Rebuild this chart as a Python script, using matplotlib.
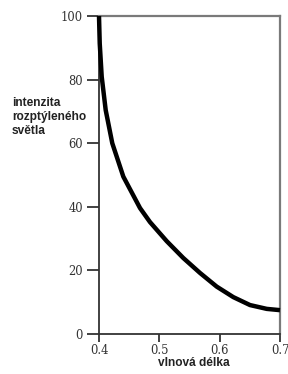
import matplotlib
matplotlib.use("Agg")
import matplotlib.pyplot as plt

wavelength = [0.400, 0.4012, 0.4045, 0.4111, 0.4220, 0.4403, 0.4680, 0.4845,
              0.5122, 0.5397, 0.5674, 0.5951, 0.6226, 0.6503, 0.6780, 0.700]
intensity = [100, 91.4, 80.9, 70.4, 60.0, 49.5, 39.6, 35.2,
             29.2, 23.9, 19.2, 14.9, 11.6, 9.1, 7.9, 7.5]
x_ticks = [0.4, 0.5, 0.6, 0.7]
y_ticks = [0, 20, 40, 60, 80, 100]
x_label = "vlnová délka"
y_label = "intenzita\nrozptýleného\nsvětla"

fig = plt.figure(figsize=(2.88, 3.74), dpi=100)
ax = fig.add_axes([99/288, 1-334/374, 181/288, 318/374])

ax.plot(wavelength, intensity, color="black", lw=3.2,
        solid_capstyle="butt", solid_joinstyle="round", clip_on=False, zorder=3)

ax.set_xlim(0.4, 0.7)
ax.set_ylim(0, 100)
ax.set_xticks(x_ticks)
ax.set_xticklabels([str(v) for v in x_ticks])
ax.set_yticks(y_ticks)
ax.set_yticklabels([str(v) for v in y_ticks])

for s in ["left", "bottom"]:
    ax.spines[s].set_color("#333333")
    ax.spines[s].set_linewidth(1.3)
for s in ["top", "right"]:
    ax.spines[s].set_color("#7a7a7a")
    ax.spines[s].set_linewidth(1.6)

ax.tick_params(axis="y", direction="out", length=9, width=1.3, color="#333333",
               pad=2.5, labelsize=8.3, labelcolor="#333333")
ax.tick_params(axis="x", direction="out", length=5.5, width=1.3, color="#333333",
               pad=2, labelsize=8.3, labelcolor="#333333")
for lab in ax.get_xticklabels() + ax.get_yticklabels():
    lab.set_family("DejaVu Serif")

fig.text(12/288, 1-97/374, y_label, ha="left", va="top",
         fontsize=8.6, fontweight="bold", family="Liberation Sans",
         color="#222222", linespacing=1.22)
fig.text(194/288, 1-363/374, x_label, ha="center", va="center",
         fontsize=8.6, fontweight="bold", family="Liberation Sans",
         color="#222222")

fig.savefig("out.png", dpi=100)
